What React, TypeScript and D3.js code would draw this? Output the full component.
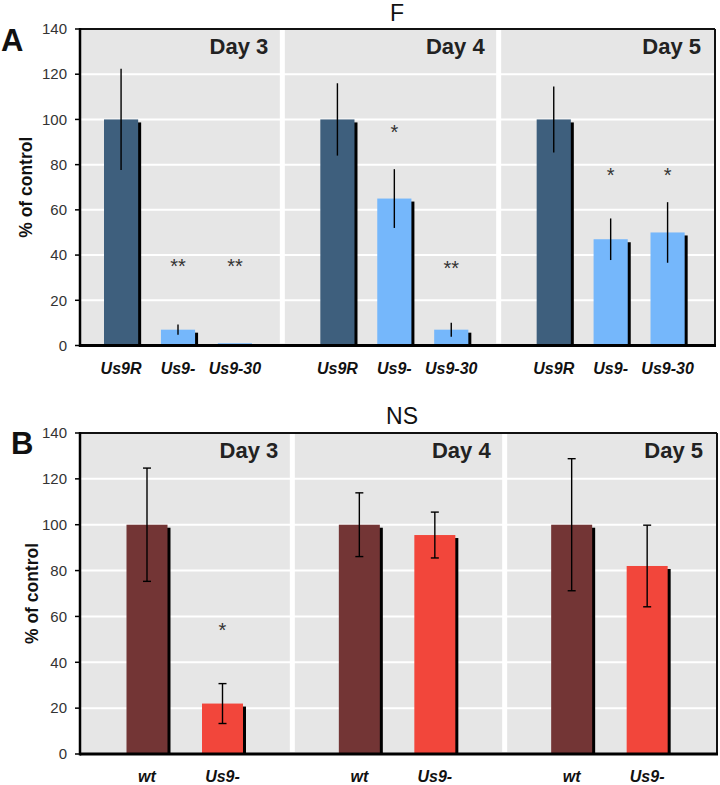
import React from "react";
import * as d3 from "d3";

const days = ["Day 3", "Day 4", "Day 5"];
const yTicks = [0, 20, 40, 60, 80, 100, 120, 140];

const groupsA = ["Us9R", "Us9-", "Us9-30"];
const valuesA = [
  [100, 7, 1],
  [100, 65, 7],
  [100, 47, 50],
];
const errorsA = [
  [22.4, 2.3, 0],
  [16, 13, 3.1],
  [14.6, 9.2, 13.4],
];
const starsA = [
  ["", "**", "**"],
  ["", "*", "**"],
  ["", "*", "*"],
];
const starPosA = [
  [0, 37, 37],
  [0, 96, 36],
  [0, 77, 77],
];
const colorsA = ["#3e5f7d", "#75b7fb", "#75b7fb"];

const groupsB = ["wt", "Us9-"];
const valuesB = [
  [100, 22],
  [100, 95.5],
  [100, 82],
];
const errorsB = [
  [24.7, 8.7],
  [13.9, 10],
  [28.8, 17.8],
];
const starsB = [
  ["", "*"],
  ["", ""],
  ["", ""],
];
const starPosB = [
  [0, 56],
  [0, 0],
  [0, 0],
];
const colorsB = ["#733535", "#f2463b"];

const FONT = "Arial, 'Liberation Sans', sans-serif";

type PanelProps = {
  letter: string;
  title: string;
  titleX: number;
  titleY: number;
  letterX: number;
  letterY: number;
  yTop: number;
  yBottom: number;
  xLeft: number;
  xRight: number;
  outerStart: number;
  innerRange: [number, number];
  innerPad: number;
  groups: string[];
  values: number[][];
  errors: number[][];
  stars: string[][];
  starPos: number[][];
  colors: string[];
  caps: boolean;
  yLabelX: number;
};

function Panel(p: PanelProps) {
  const y = d3.scaleLinear().domain([0, 140]).range([p.yBottom, p.yTop]);
  const outer = d3
    .scaleBand<string>()
    .domain(days)
    .range([p.outerStart, p.xRight])
    .paddingInner(0)
    .paddingOuter(0);
  const inner = d3
    .scaleBand<string>()
    .domain(p.groups)
    .range(p.innerRange)
    .paddingInner(p.innerPad)
    .paddingOuter(0);
  const bw = inner.bandwidth();
  const yMid = (p.yTop + p.yBottom) / 2;

  return (
    <g>
      <text
        x={p.titleX}
        y={p.titleY}
        fontSize={23}
        textAnchor="middle"
        fontFamily={FONT}
        fill="#111"
      >
        {p.title}
      </text>
      <text
        x={p.letterX}
        y={p.letterY}
        fontSize={31}
        fontWeight="bold"
        fontFamily={FONT}
        fill="#111"
      >
        {p.letter}
      </text>
      <rect
        x={p.xLeft}
        y={p.yTop}
        width={p.xRight - p.xLeft}
        height={p.yBottom - p.yTop}
        fill="#e6e6e6"
      />
      {yTicks
        .filter((t) => t > 0 && t < 140)
        .map((t) => (
          <line
            key={"g" + t}
            x1={p.xLeft}
            x2={p.xRight}
            y1={y(t)}
            y2={y(t)}
            stroke="#ffffff"
            strokeWidth={2}
          />
        ))}
      {days.slice(1).map((d) => (
        <line
          key={"div" + d}
          x1={outer(d)!}
          x2={outer(d)!}
          y1={p.yTop}
          y2={p.yBottom - 2}
          stroke="#ffffff"
          strokeWidth={5}
        />
      ))}
      {days.map((d) => (
        <text
          key={"dl" + d}
          x={outer(d)! + outer.bandwidth() - 14}
          y={p.yTop + 25}
          fontSize={22}
          fontWeight="bold"
          textAnchor="end"
          fontFamily={FONT}
          fill="#222"
        >
          {d}
        </text>
      ))}
      {days.map((d, di) =>
        p.groups.map((g, gi) => {
          const x0 = outer(d)! + inner(g)!;
          const v = p.values[di][gi];
          const e = p.errors[di][gi];
          const top = y(v);
          const cx = x0 + bw / 2;
          return (
            <g key={d + g}>
              <rect
                x={x0 + 3}
                y={Math.min(top + 3, p.yBottom)}
                width={bw}
                height={Math.max(0, p.yBottom - top - 3)}
                fill="#000"
              />
              <rect
                x={x0}
                y={top}
                width={bw}
                height={p.yBottom - top}
                fill={p.colors[gi]}
              />
              {e > 0 && (
                <g stroke="#000" strokeWidth={1.4}>
                  <line x1={cx} x2={cx} y1={y(v + e)} y2={y(v - e)} />
                  {p.caps && (
                    <>
                      <line x1={cx - 4} x2={cx + 4} y1={y(v + e)} y2={y(v + e)} />
                      <line x1={cx - 4} x2={cx + 4} y1={y(v - e)} y2={y(v - e)} />
                    </>
                  )}
                </g>
              )}
              {p.stars[di][gi] && (
                <text
                  x={cx}
                  y={y(p.starPos[di][gi]) + 11}
                  fontSize={20}
                  textAnchor="middle"
                  fontFamily={FONT}
                  fill="#333"
                >
                  {p.stars[di][gi]}
                </text>
              )}
              <text
                x={cx}
                y={p.yBottom + 28}
                fontSize={16}
                fontWeight="bold"
                fontStyle="italic"
                textAnchor="middle"
                fontFamily={FONT}
                fill="#111"
              >
                {g}
              </text>
            </g>
          );
        })
      )}
      <line x1={p.xLeft} x2={p.xRight} y1={p.yTop} y2={p.yTop} stroke="#111" strokeWidth={2} />
      <line x1={p.xRight} x2={p.xRight} y1={p.yTop} y2={p.yBottom} stroke="#111" strokeWidth={2} />
      <line x1={p.xLeft} x2={p.xRight + 1} y1={p.yBottom} y2={p.yBottom} stroke="#000" strokeWidth={3} />
      <line x1={p.xLeft} x2={p.xLeft} y1={p.yTop - 1} y2={p.yBottom + 1.5} stroke="#000" strokeWidth={2.5} />
      {yTicks.map((t) => (
        <g key={"t" + t}>
          <line x1={p.xLeft - 5} x2={p.xLeft} y1={y(t)} y2={y(t)} stroke="#000" strokeWidth={1.5} />
          <text
            x={p.xLeft - 13}
            y={y(t)}
            dy="0.35em"
            fontSize={15}
            textAnchor="end"
            fontFamily={FONT}
            fill="#333"
          >
            {t}
          </text>
        </g>
      ))}
      <text
        transform={`translate(${p.yLabelX},${yMid}) rotate(-90)`}
        fontSize={17.5}
        fontWeight="bold"
        textAnchor="middle"
        fontFamily={FONT}
        fill="#111"
      >
        % of control
      </text>
    </g>
  );
}

export default function App() {
  return (
    <svg
      width={720}
      height={785}
      style={{ position: "absolute", left: 0, top: 0, background: "#fff" }}
    >
      <Panel
        letter="A"
        title="F"
        titleX={397}
        titleY={21}
        letterX={1}
        letterY={51}
        yTop={29}
        yBottom={345.5}
        xLeft={80}
        xRight={715}
        outerStart={66}
        innerRange={[38, 186]}
        innerPad={0.4}
        groups={groupsA}
        values={valuesA}
        errors={errorsA}
        stars={starsA}
        starPos={starPosA}
        colors={colorsA}
        caps={false}
        yLabelX={32}
      />
      <Panel
        letter="B"
        title="NS"
        titleX={402}
        titleY={424}
        letterX={11}
        letterY={454}
        yTop={433}
        yBottom={754}
        xLeft={80}
        xRight={717}
        outerStart={80}
        innerRange={[46.5, 163]}
        innerPad={0.457}
        groups={groupsB}
        values={valuesB}
        errors={errorsB}
        stars={starsB}
        starPos={starPosB}
        colors={colorsB}
        caps={true}
        yLabelX={38}
      />
    </svg>
  );
}
